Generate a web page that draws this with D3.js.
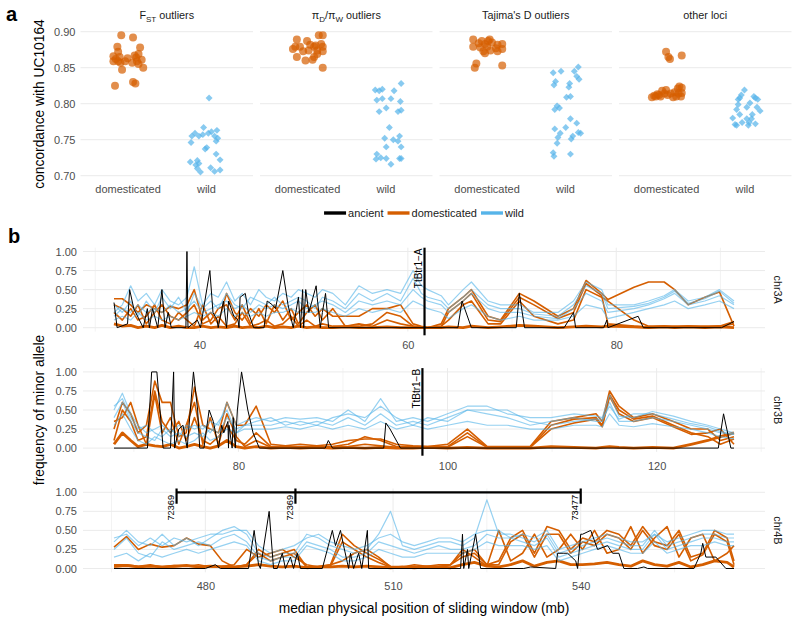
<!DOCTYPE html>
<html>
<head>
<meta charset="utf-8">
<script src="https://cdn.jsdelivr.net/npm/d3@7"></script>
<style>
  body { margin: 0; background: #fff; }
  svg text { font-family: "Liberation Sans", Arial, Helvetica, sans-serif; }
</style>
</head>
<body>
<div id="chart"></div>
<script>
// ---------- panel a data: [jitter (category units), concordance] ----------
const groupsA = ['domesticated', 'wild'];
const concTicks = [0.70, 0.75, 0.80, 0.85, 0.90];

const fstDom = [[-0.16,0.825],[-0.08,0.895],[0.07,0.892],[-0.13,0.879],[-0.12,0.872],[-0.18,0.866],[-0.15,0.862],
  [-0.12,0.859],[-0.09,0.857],[-0.03,0.859],[-0.07,0.847],[0,0.863],[0.06,0.857],[0.07,0.830],[0.10,0.828],
  [0.11,0.864],[0.14,0.869],[0.16,0.878],[0.18,0.861],[0.20,0.850],[0.14,0.855],[0.12,0.859],[0.09,0.867],
  [-0.10,0.865],[-0.18,0.859]];
const fstWild = [[0.04,0.808],[-0.03,0.767],[-0.14,0.759],[-0.18,0.755],[-0.19,0.746],[-0.09,0.755],[-0.04,0.757],
  [0.03,0.759],[0.07,0.761],[0.14,0.763],[0.11,0.755],[0.15,0.752],[0.13,0.748],[0.01,0.739],[-0.01,0.737],
  [0.13,0.730],[0.18,0.722],[-0.20,0.719],[-0.11,0.721],[-0.13,0.715],[-0.11,0.710],[-0.07,0.705],[0.06,0.711],
  [0.11,0.706],[0.18,0.708],[-0.09,0.717]];
const piDom = [[-0.13,0.889],[0,0.887],[0.15,0.895],[0.20,0.895],[-0.15,0.879],[-0.18,0.876],[-0.09,0.879],
  [-0.05,0.873],[0.02,0.874],[0.09,0.879],[0.11,0.881],[0.18,0.883],[0.20,0.879],[0.13,0.874],[0.20,0.873],
  [-0.13,0.865],[-0.02,0.860],[0.07,0.861],[0.09,0.865],[0.13,0.869],[0.20,0.850],[0.04,0.882]];
const piWild = [[-0.13,0.819],[-0.08,0.818],[-0.04,0.820],[-0.11,0.805],[-0.04,0.807],[0.01,0.794],[-0.08,0.789],
  [0.11,0.818],[0.07,0.807],[0.16,0.789],[0.20,0.791],[0.20,0.828],[0.19,0.803],[0.05,0.767],[0.10,0.750],
  [0.18,0.755],[0.16,0.748],[0.20,0.740],[0.01,0.740],[-0.01,0.752],[-0.11,0.730],[0.01,0.724],[-0.12,0.723],
  [-0.06,0.725],[0.07,0.716],[0.18,0.724],[0.20,0.724]];
const tajDom = [[-0.17,0.889],[-0.06,0.887],[0.04,0.889],[-0.02,0.883],[-0.10,0.884],[0.07,0.885],[0.14,0.882],
  [0.20,0.883],[-0.17,0.879],[-0.08,0.878],[0.01,0.879],[0.12,0.877],[0.20,0.876],[-0.04,0.873],[0.05,0.874],
  [0.14,0.873],[-0.02,0.870],[-0.13,0.856],[-0.15,0.850],[0.20,0.853],[0.02,0.887]];
const tajWild = [[-0.15,0.843],[-0.05,0.845],[0.12,0.845],[0.17,0.851],[0.15,0.838],[0.18,0.834],[-0.12,0.831],
  [-0.14,0.826],[0.06,0.828],[0.05,0.823],[0.02,0.809],[0.07,0.810],[-0.10,0.797],[-0.07,0.794],[-0.13,0.792],
  [0.07,0.779],[0.15,0.773],[-0.13,0.765],[-0.06,0.759],[0.01,0.767],[-0.09,0.753],[0.10,0.755],[0.08,0.751],
  [0.20,0.759],[0.17,0.760],[-0.10,0.745],[-0.15,0.732],[-0.14,0.727],[0.07,0.730]];
const otherDom = [[0,0.872],[0.03,0.865],[0.05,0.862],[0.20,0.867],[-0.18,0.809],[-0.13,0.810],[-0.09,0.812],
  [-0.05,0.818],[0,0.819],[-0.02,0.814],[-0.07,0.810],[0.02,0.812],[0.06,0.814],[0.11,0.816],[0.15,0.821],
  [0.17,0.824],[0.20,0.822],[0.20,0.815],[0.19,0.810],[0.13,0.810],[0.09,0.809],[-0.11,0.813],[-0.15,0.811],
  [0.16,0.814]];
const otherWild = [[0,0.819],[-0.04,0.812],[-0.06,0.808],[0.12,0.810],[0.17,0.806],[0.14,0.808],[-0.08,0.806],
  [0.07,0.801],[-0.08,0.799],[0.03,0.795],[0.16,0.795],[0.20,0.790],[-0.10,0.792],[-0.15,0.780],[-0.06,0.785],
  [0.10,0.785],[0.09,0.779],[0.03,0.779],[-0.12,0.771],[-0.10,0.770],[-0.03,0.774],[0.05,0.770],[0.14,0.772],
  [0.06,0.774]];

const facetTitles = [
  [['F'], ['ST', 'sub'], [' outliers']],
  [['\u03c0'], ['D', 'sub'], ['/\u03c0'], ['W', 'sub'], [' outliers']],
  [["Tajima's D outliers"]],
  [['other loci']]
];
const facetData = [[fstDom, fstWild], [piDom, piWild], [tajDom, tajWild], [otherDom, otherWild]];

// ---------- panel b data: minor allele frequency along sliding windows ----------
const freqTicks = [0, 0.25, 0.5, 0.75, 1];
const legendNames = ['ancient', 'domesticated', 'wild'];

const chr3A_ticks = [40, 60, 80];
const chr3A_pos = [31.8,32.6,33.4,34.1,34.9,35.7,36.4,37.2,38.0,38.8,
  39.5,40.3,41.1,41.8,42.6,43.4,44.1,44.9,45.7,46.4,
  47.2,48.0,48.8,49.5,50.3,51.1,51.8,52.8,54.0,55.3,
  56.6,58.0,59.3,60.5,61.3,61.9,63.2,63.9,65.3,66.1,
  67.7,68.9,70.7,72.1,74.4,75.9,77.1,78.6,79.2,81.7,
  83.1,84.6,85.6,86.9,88.5,89.9,91.3];
const chr3A_dom = [
  [0.38,0.38,0.30,0.20,0.30,0.25,0.20,0.28,0.25,0.30, 0.50,0.10,0.20,0.05,0.45,0.20,0.10,0.25,0.15,0.30,
   0.20,0.35,0.10,0.20,0.30,0.15,0.25,0.15,0.15,0.15, 0.25,0.25,0.30,0.05,0.02,0.00,0.05,0.25,0.40,0.50,
   0.15,0.10,0.45,0.35,0.15,0.25,0.62,0.45,0.37,0.53, 0.60,0.60,0.50,0.30,0.40,0.47,0.02],
  [0.20,0.10,0.25,0.10,0.15,0.30,0.10,0.05,0.20,0.10, 0.02,0.30,0.05,0.15,0.02,0.05,0.20,0.02,0.05,0.10,
   0.02,0.05,0.15,0.02,0.10,0.02,0.05,0.02,0.02,0.05, 0.02,0.10,0.05,0.02,0.00,0.00,0.02,0.10,0.30,0.35,
   0.05,0.05,0.35,0.15,0.05,0.10,0.50,0.40,0.35,0.10, 0.02,0.02,0.02,0.02,0.02,0.02,0.08],
  [0.30,0.25,0.15,0.30,0.05,0.20,0.30,0.15,0.10,0.20, 0.30,0.05,0.10,0.25,0.30,0.10,0.30,0.05,0.25,0.05,
   0.30,0.10,0.25,0.05,0.20,0.30,0.10,0.25,0.02,0.02, 0.05,0.20,0.15,0.02,0.01,0.00,0.01,0.20,0.35,0.45,
   0.10,0.08,0.40,0.30,0.12,0.20,0.58,0.42,0.05,0.02, 0.01,0.02,0.01,0.02,0.01,0.02,0.05],
  [0.05,0.02,0.03,0.00,0.02,0.00,0.03,0.00,0.02,0.00, 0.00,0.02,0.00,0.01,0.00,0.02,0.00,0.01,0.00,0.02,
   0.00,0.01,0.00,0.02,0.00,0.01,0.00,0.00,0.01,0.00, 0.00,0.01,0.00,0.00,0.00,0.00,0.00,0.01,0.00,0.02,
   0.00,0.01,0.03,0.02,0.00,0.01,0.02,0.01,0.02,0.01, 0.00,0.01,0.00,0.01,0.00,0.01,0.00]
];
const chr3A_wild = [
  [0.20,0.30,0.55,0.35,0.45,0.30,0.50,0.35,0.30,0.40, 0.80,0.30,0.45,0.40,0.60,0.35,0.45,0.30,0.50,0.40,
   0.35,0.45,0.40,0.50,0.45,0.40,0.50,0.45,0.30,0.55, 0.45,0.50,0.45,0.75,0.55,0.50,0.42,0.30,0.50,0.60,
   0.35,0.30,0.30,0.20,0.20,0.35,0.60,0.50,0.30,0.30, 0.35,0.42,0.50,0.35,0.40,0.50,0.35],
  [0.15,0.25,0.20,0.30,0.20,0.25,0.20,0.30,0.20,0.25, 0.35,0.20,0.25,0.30,0.35,0.25,0.30,0.20,0.30,0.25,
   0.30,0.25,0.30,0.35,0.25,0.30,0.35,0.30,0.20,0.35, 0.30,0.35,0.30,0.50,0.40,0.35,0.30,0.20,0.35,0.45,
   0.25,0.20,0.20,0.15,0.12,0.25,0.45,0.35,0.20,0.25, 0.30,0.38,0.45,0.30,0.35,0.42,0.30],
  [0.10,0.15,0.10,0.20,0.10,0.15,0.10,0.15,0.10,0.15, 0.20,0.15,0.20,0.15,0.25,0.15,0.20,0.15,0.20,0.15,
   0.20,0.20,0.25,0.20,0.20,0.20,0.25,0.20,0.15,0.25, 0.20,0.25,0.20,0.35,0.30,0.25,0.20,0.12,0.25,0.30,
   0.15,0.10,0.15,0.10,0.10,0.15,0.30,0.25,0.12,0.20, 0.25,0.30,0.35,0.25,0.30,0.35,0.25],
  [0.30,0.20,0.35,0.15,0.35,0.20,0.40,0.25,0.40,0.20, 0.45,0.25,0.35,0.25,0.45,0.30,0.25,0.40,0.35,0.30,
   0.40,0.30,0.35,0.40,0.35,0.25,0.40,0.35,0.25,0.45, 0.35,0.45,0.35,0.65,0.45,0.40,0.35,0.25,0.40,0.50,
   0.30,0.25,0.25,0.18,0.15,0.30,0.55,0.45,0.25,0.28, 0.32,0.40,0.48,0.32,0.38,0.48,0.32]
];
const chr3A_ancient = [[31.8,0.33],[32.1,0],[33.1,0.05],[33.3,0.5],[33.7,0.25],[34.6,0],[35.0,0.25],[35.2,0],
  [35.5,0.25],[36.0,0],[36.4,0.5],[36.7,0],[37.0,0.2],[37.3,0],[38.7,0],[38.8,1],[38.9,0],[39.8,0.1],[40.1,0],
  [41.0,0.75],[41.3,0.2],[41.7,0.1],[41.8,0],[42.3,0.35],[42.6,0],[42.8,0.35],[43.3,0.15],[43.7,0.1],[43.8,0],
  [43.9,0.4],[44.4,0.45],[44.7,0.2],[45.2,0],[46.2,0],[46.5,0.35],[47.0,0.3],[47.3,0.25],[48.0,0.75],[48.5,0.3],
  [49.0,0],[49.5,0.4],[49.7,0],[49.9,0.5],[50.0,0],[50.2,0.5],[50.5,0.2],[50.9,0.4],[51.2,0.55],[51.3,0.4],
  [51.6,0],[51.8,0.2],[52.1,0.45],[52.4,0],[64.8,0],[65.2,0.35],[66.1,0],[70.4,0],[70.7,0.45],[71.2,0],[75.0,0],
  [75.9,0.2],[76.1,0],[78.8,0],[79.1,0.1],[79.2,0],[82.1,0.15],[82.6,0],[90.1,0],[91.3,0.08]];

const chr3B_ticks = [80, 100, 120];
const chr3B_pos = [68.1,68.9,69.7,70.4,71.2,72.0,72.7,73.5,74.3,75.0,
  75.8,76.6,77.3,78.1,78.9,79.8,80.6,81.7,83.1,84.5,
  85.9,87.5,89.0,90.5,92.1,93.6,95.1,96.7,98.1,100.0,
  101.9,103.8,105.7,107.9,109.9,112.1,114.2,114.8,115.5,116.4,
  117.8,119.6,121.6,123.3,124.9,126.1,127.4];
const chr3B_dom = [
  [0.25,0.60,0.45,0.20,0.30,0.88,0.60,0.60,0.15,0.20, 0.80,0.30,0.25,0.20,0.60,0.30,0.30,0.55,0.05,0.03,
   0.05,0.03,0.05,0.10,0.12,0.12,0.05,0.03,0.02,0.05, 0.25,0.02,0.02,0.02,0.35,0.40,0.45,0.35,0.75,0.55,
   0.40,0.45,0.35,0.25,0.25,0.10,0.15],
  [0.10,0.50,0.35,0.10,0.15,0.75,0.35,0.20,0.35,0.10, 0.40,0.10,0.05,0.15,0.30,0.10,0.05,0.20,0.02,0.02,
   0.02,0.02,0.02,0.05,0.15,0.10,0.02,0.02,0.02,0.02, 0.20,0.01,0.01,0.01,0.30,0.38,0.40,0.30,0.70,0.50,
   0.38,0.42,0.30,0.20,0.15,0.05,0.12],
  [0.35,0.40,0.60,0.30,0.05,0.70,0.20,0.40,0.05,0.30, 0.60,0.05,0.40,0.05,0.45,0.15,0.02,0.10,0.01,0.01,
   0.01,0.02,0.01,0.02,0.05,0.03,0.01,0.01,0.01,0.01, 0.15,0.01,0.01,0.01,0.25,0.33,0.38,0.28,0.68,0.45,
   0.35,0.40,0.28,0.18,0.20,0.25,0.05],
  [0.05,0.20,0.10,0.02,0.05,0.03,0.02,0.05,0.00,0.02, 0.05,0.02,0.00,0.03,0.10,0.02,0.00,0.02,0.00,0.01,
   0.00,0.01,0.00,0.01,0.00,0.01,0.00,0.00,0.01,0.00, 0.01,0.00,0.00,0.00,0.02,0.01,0.00,0.01,0.02,0.01,
   0.00,0.01,0.00,0.05,0.10,0.15,0.20]
];
const chr3B_wild = [
  [0.50,0.72,0.45,0.30,0.20,0.25,0.30,0.20,0.30,0.25, 0.30,0.25,0.35,0.30,0.60,0.30,0.35,0.40,0.35,0.40,
   0.38,0.40,0.35,0.50,0.35,0.65,0.35,0.40,0.35,0.45, 0.55,0.55,0.45,0.40,0.40,0.45,0.42,0.40,0.70,0.42,
   0.40,0.48,0.42,0.35,0.30,0.25,0.20],
  [0.40,0.60,0.35,0.20,0.15,0.10,0.25,0.15,0.20,0.15, 0.20,0.15,0.25,0.20,0.40,0.25,0.30,0.30,0.30,0.35,
   0.30,0.35,0.30,0.40,0.30,0.45,0.30,0.35,0.30,0.40, 0.50,0.45,0.40,0.30,0.35,0.40,0.35,0.35,0.60,0.35,
   0.35,0.40,0.35,0.30,0.25,0.20,0.18],
  [0.30,0.45,0.25,0.10,0.05,0.15,0.10,0.05,0.10,0.05, 0.10,0.20,0.10,0.15,0.25,0.20,0.25,0.25,0.25,0.28,
   0.25,0.30,0.25,0.30,0.25,0.35,0.25,0.30,0.25,0.30, 0.35,0.30,0.30,0.25,0.25,0.30,0.30,0.28,0.45,0.30,
   0.28,0.32,0.28,0.25,0.20,0.15,0.12],
  [0.55,0.65,0.40,0.25,0.30,0.20,0.15,0.25,0.15,0.30, 0.25,0.30,0.20,0.35,0.50,0.20,0.30,0.35,0.40,0.30,
   0.35,0.30,0.40,0.45,0.40,0.55,0.40,0.30,0.40,0.35, 0.50,0.50,0.50,0.35,0.30,0.35,0.38,0.38,0.55,0.38,
   0.45,0.45,0.38,0.32,0.28,0.22,0.18]
];
const chr3B_ancient = [[68.1,0],[71.3,0],[71.5,0.5],[71.7,1],[72.2,1],[72.8,0],[73.5,0],[73.8,1],[73.9,0],
  [74.3,0.25],[74.7,0.3],[75.1,0],[75.7,1],[76.1,0.5],[76.3,0],[76.7,0],[77.2,0.5],[77.6,0.35],[78.1,0],
  [78.4,0.3],[78.6,0.2],[79.0,0.35],[79.05,0],[79.1,0.3],[79.4,0],[79.5,0.4],[79.7,0],[79.9,0.5],[80.3,1],
  [80.9,0.5],[81.4,0.2],[82.0,0],[88.3,0],[88.6,0.1],[89.0,0],[93.9,0],[94.1,0.33],[94.5,0.25],[95.5,0],
  [125.9,0],[126.4,0.45],[127.1,0],[127.4,0]];

const chr4B_ticks = [480, 510, 540];
const chr4B_pos = [465.4,467.4,469.3,471.2,473.1,475.0,477.0,478.9,480.8,482.7,
  484.6,486.6,488.5,490.4,492.3,494.2,496.2,498.1,500.0,501.9,
  503.8,505.8,507.7,509.6,511.5,513.4,515.4,517.3,519.2,521.1,
  523.0,525.0,526.9,528.8,530.7,532.6,534.6,536.5,538.4,540.3,
  542.2,544.2,546.1,548.0,549.9,551.8,553.8,555.7,557.6,559.5,
  561.4,563.4,564.5];
const chr4B_dom = [
  [0.28,0.42,0.25,0.32,0.28,0.30,0.40,0.32,0.30,0.10, 0.02,0.05,0.25,0.15,0.20,0.25,0.02,0.03,0.05,0.45,
   0.30,0.20,0.12,0.03,0.02,0.05,0.03,0.05,0.05,0.20, 0.25,0.05,0.10,0.40,0.50,0.20,0.55,0.50,0.25,0.40,
   0.35,0.50,0.45,0.30,0.55,0.35,0.30,0.50,0.15,0.20, 0.50,0.40,0.10],
  [0.05,0.05,0.03,0.05,0.02,0.04,0.03,0.05,0.02,0.03, 0.02,0.05,0.20,0.10,0.15,0.20,0.02,0.02,0.03,0.35,
   0.25,0.15,0.08,0.02,0.02,0.03,0.02,0.03,0.05,0.15, 0.20,0.05,0.05,0.35,0.45,0.15,0.45,0.45,0.20,0.35,
   0.30,0.45,0.40,0.25,0.50,0.30,0.25,0.45,0.10,0.18, 0.45,0.35,0.05],
  [0.02,0.03,0.02,0.03,0.02,0.02,0.03,0.02,0.02,0.03, 0.05,0.25,0.15,0.20,0.25,0.15,0.05,0.02,0.05,0.10,
   0.20,0.25,0.15,0.02,0.02,0.02,0.03,0.02,0.05,0.25, 0.15,0.03,0.50,0.10,0.20,0.45,0.15,0.25,0.45,0.25,
   0.50,0.20,0.25,0.55,0.20,0.40,0.55,0.15,0.40,0.45, 0.10,0.20,0.30],
  [0.03,0.04,0.02,0.03,0.02,0.03,0.04,0.02,0.03,0.02, 0.02,0.03,0.05,0.03,0.02,0.03,0.01,0.02,0.02,0.03,
   0.02,0.03,0.02,0.01,0.02,0.01,0.02,0.02,0.01,0.05, 0.08,0.03,0.02,0.05,0.10,0.03,0.08,0.10,0.05,0.05,
   0.06,0.08,0.05,0.03,0.10,0.05,0.03,0.08,0.02,0.05, 0.10,0.08,0.02]
];
const chr4B_wild = [
  [0.35,0.50,0.35,0.30,0.45,0.30,0.40,0.30,0.40,0.50, 0.55,0.45,0.20,0.15,0.20,0.20,0.45,0.40,0.30,0.25,
   0.20,0.25,0.45,0.75,0.30,0.25,0.30,0.35,0.35,0.30, 0.40,0.90,0.45,0.45,0.40,0.35,0.45,0.20,0.25,0.30,
   0.35,0.40,0.35,0.30,0.30,0.50,0.30,0.35,0.40,0.45, 0.45,0.40,0.40],
  [0.25,0.40,0.20,0.15,0.35,0.25,0.30,0.35,0.30,0.40, 0.45,0.35,0.15,0.10,0.15,0.15,0.35,0.30,0.25,0.15,
   0.15,0.20,0.35,0.30,0.25,0.20,0.25,0.30,0.25,0.25, 0.30,0.45,0.40,0.40,0.35,0.30,0.40,0.15,0.20,0.25,
   0.30,0.35,0.30,0.25,0.25,0.45,0.25,0.30,0.35,0.40, 0.40,0.35,0.35],
  [0.15,0.20,0.10,0.20,0.15,0.20,0.25,0.20,0.25,0.30, 0.35,0.30,0.10,0.05,0.10,0.10,0.30,0.25,0.20,0.10,
   0.10,0.15,0.25,0.20,0.15,0.15,0.20,0.20,0.20,0.20, 0.25,0.35,0.30,0.30,0.30,0.25,0.30,0.10,0.15,0.20,
   0.25,0.30,0.25,0.20,0.20,0.35,0.20,0.25,0.30,0.30, 0.35,0.30,0.30],
  [0.40,0.45,0.30,0.40,0.30,0.40,0.35,0.40,0.45,0.45, 0.50,0.50,0.30,0.20,0.25,0.30,0.40,0.45,0.35,0.30,
   0.25,0.30,0.40,0.45,0.35,0.30,0.35,0.40,0.40,0.35, 0.45,0.50,0.50,0.40,0.45,0.40,0.50,0.25,0.30,0.35,
   0.40,0.45,0.40,0.35,0.35,0.45,0.35,0.40,0.45,0.50, 0.50,0.45,0.45]
];
const chr4B_ancient = [[465.4,0],[480.0,0],[481.6,0.05],[482.4,0],[486.9,0],[487.8,0.5],[488.5,0.05],[488.8,0],
  [490.2,0.75],[490.9,0],[491.5,0],[492.3,0.2],[492.8,0],[493.6,0.15],[494.1,0],[494.7,0.2],[495.2,0],[498.7,0],
  [500.3,0.5],[500.8,0.3],[501.6,0.5],[502.1,0.3],[502.9,0],[503.2,0.2],[503.7,0],[504.5,0.2],[505.0,0],
  [505.9,0.5],[506.1,0],[520.8,0],[521.1,0.45],[521.3,0],[521.9,0.25],[522.1,0],[523.2,0.45],[524.0,0],
  [530.9,0],[532.0,0.02],[536.0,0],[536.3,0.2],[537.3,0.2],[537.9,0.2],[539.2,0.1],[539.5,0],[540.0,0.45],
  [540.3,0.45],[541.6,0.5],[542.7,0.25],[544.3,0.3],[545.1,0.2],[546.1,0.2],[546.9,0],[549.1,0],[550.1,0.02],
  [550.7,0],[558.1,0],[559.2,0.2],[559.5,0.33],[560.0,0.15],[561.6,0.15],[563.2,0],[564.5,0]];

// gene markers and the chr4B bracket
const geneChr = ['chr3A', 'chr3B'];
const genePos = [61.6, 97.6];
const geneLabel = ['TtBtr1\u2212A', 'TtBtr1\u2212B'];
const bracketPos = [475.4, 494.4, 540.0];
const bracketLabel = ['72369', '72369', '73477'];

const chromosomes = [
  { name: 'chr3A', pos: chr3A_pos, dom: chr3A_dom, wild: chr3A_wild, ancient: chr3A_ancient, ticks: chr3A_ticks },
  { name: 'chr3B', pos: chr3B_pos, dom: chr3B_dom, wild: chr3B_wild, ancient: chr3B_ancient, ticks: chr3B_ticks },
  { name: 'chr4B', pos: chr4B_pos, dom: chr4B_dom, wild: chr4B_wild, ancient: chr4B_ancient, ticks: chr4B_ticks }
];

// ---------- styling ----------
const colors = {
  ancient: '#000000',
  domesticated: '#d55e00',
  wild: '#56b4e9',
  grid: '#ebebeb',
  axis: '#4d4d4d',
  strip: '#1a1a1a'
};

const svg = d3.select('#chart').append('svg')
  .attr('width', 800)
  .attr('height', 629);

function styleAxis(sel, size) {
  sel.select('.domain').remove();
  sel.selectAll('text').attr('font-size', size).attr('fill', colors.axis);
}

// ================= panel a =================
const aLeft = 80.5, aWidth = 172.5, aStep = 179.5;
const yA = d3.scaleLinear().domain([0.70, 0.90]).range([175.7, 31.7]);

facetTitles.forEach((parts, i) => {
  const left = aLeft + i * aStep;
  const xA = d3.scalePoint().domain(groupsA).range([left, left + aWidth]).padding(0.6);
  const g = svg.append('g');

  g.append('g').selectAll('line')
    .data(concTicks)
    .join('line')
    .attr('x1', left).attr('x2', left + aWidth)
    .attr('y1', d => yA(d)).attr('y2', d => yA(d))
    .attr('stroke', colors.grid).attr('stroke-width', 1);

  // strip title with subscripts
  const title = g.append('text')
    .attr('x', left + aWidth / 2).attr('y', 19)
    .attr('text-anchor', 'middle')
    .attr('font-size', 10.8).attr('fill', colors.strip);
  let shifted = false;
  parts.forEach(([txt, kind]) => {
    const t = title.append('tspan').text(txt);
    if (kind === 'sub') { t.attr('font-size', 8).attr('dy', shifted ? 0 : 3); shifted = true; }
    else { t.attr('dy', shifted ? -3 : 0); shifted = false; }
  });

  g.append('g')
    .attr('transform', 'translate(0,176)')
    .call(d3.axisBottom(xA).tickSize(0).tickPadding(9))
    .call(s => styleAxis(s, 11));

  if (i === 0) {
    g.append('g')
      .attr('transform', `translate(${left},0)`)
      .call(d3.axisLeft(yA).tickValues(concTicks).tickFormat(d3.format('.2f')).tickSize(0).tickPadding(5))
      .call(s => styleAxis(s, 11));
  }

  const [domPts, wildPts] = facetData[i];
  g.append('g').selectAll('circle')
    .data(domPts)
    .join('circle')
    .attr('cx', d => xA('domesticated') + d[0] * xA.step())
    .attr('cy', d => yA(d[1]))
    .attr('r', 4)
    .attr('fill', colors.domesticated)
    .attr('fill-opacity', 0.7);

  g.append('g').selectAll('path')
    .data(wildPts)
    .join('path')
    .attr('transform', d => `translate(${xA('wild') + d[0] * xA.step()},${yA(d[1])}) rotate(45)`)
    .attr('d', d3.symbol(d3.symbolSquare, 24))
    .attr('fill', colors.wild)
    .attr('fill-opacity', 0.7);
});

svg.append('text')
  .attr('transform', 'translate(44,104) rotate(-90)')
  .attr('text-anchor', 'middle')
  .attr('font-size', 13.8)
  .text('concordance with UC10164');

svg.append('text').attr('x', 6).attr('y', 21)
  .attr('font-size', 20).attr('font-weight', 'bold').text('a');

// ================= legend =================
const legend = svg.append('g');
let lx = 0;
legendNames.forEach(name => {
  legend.append('line')
    .attr('x1', lx).attr('x2', lx + 22)
    .attr('y1', 0).attr('y2', 0)
    .attr('stroke', colors[name]).attr('stroke-width', 3.4);
  const t = legend.append('text')
    .attr('x', lx + 24).attr('y', 4)
    .attr('font-size', 11).attr('fill', colors.strip)
    .text(name);
  lx += 24 + t.node().getComputedTextLength() + 4;
});
legend.attr('transform', `translate(${424 - (lx - 4) / 2},213)`);

svg.append('text').attr('x', 8).attr('y', 243)
  .attr('font-size', 20).attr('font-weight', 'bold').text('b');

// ================= panel b =================
const bx0 = 83, bx1 = 765, bh = 83.8;
const bTops = [247.7, 368.1, 488.5];

chromosomes.forEach((c, i) => {
  const top = bTops[i];
  const [x0, x1] = d3.extent(c.pos.concat(c.ancient.map(d => d[0])));
  const pad = (x1 - x0) * 0.05;
  const x = d3.scaleLinear().domain([x0 - pad, x1 + pad]).range([bx0, bx1]);
  const y = d3.scaleLinear().domain([-0.05, 1.05]).range([top + bh, top]);
  const g = svg.append('g');

  // grid
  const step = c.ticks[1] - c.ticks[0];
  const minor = [c.ticks[0] - step / 2].concat(c.ticks.map(t => t + step / 2))
    .filter(v => v >= x.domain()[0] && v <= x.domain()[1]);
  g.append('g').selectAll('line')
    .data(minor)
    .join('line')
    .attr('x1', d => x(d)).attr('x2', d => x(d))
    .attr('y1', top).attr('y2', top + bh)
    .attr('stroke', colors.grid).attr('stroke-width', 0.6);
  g.append('g').selectAll('line')
    .data(c.ticks)
    .join('line')
    .attr('x1', d => x(d)).attr('x2', d => x(d))
    .attr('y1', top).attr('y2', top + bh)
    .attr('stroke', colors.grid).attr('stroke-width', 1);
  g.append('g').selectAll('line')
    .data(freqTicks)
    .join('line')
    .attr('x1', bx0).attr('x2', bx1)
    .attr('y1', d => y(d)).attr('y2', d => y(d))
    .attr('stroke', colors.grid).attr('stroke-width', 1);

  g.append('g')
    .attr('transform', `translate(${bx0},0)`)
    .call(d3.axisLeft(y).tickValues(freqTicks).tickFormat(d3.format('.2f')).tickSize(0).tickPadding(6))
    .call(s => styleAxis(s, 11));
  g.append('g')
    .attr('transform', `translate(0,${top + bh})`)
    .call(d3.axisBottom(x).tickValues(c.ticks).tickFormat(d3.format('d')).tickSize(0).tickPadding(10))
    .call(s => styleAxis(s, 11));

  const line = d3.line().x(d => x(d[0])).y(d => y(d[1]));

  c.dom.forEach((vals, k) => {
    g.append('path')
      .attr('d', line(d3.zip(c.pos, vals)))
      .attr('fill', 'none')
      .attr('stroke', colors.domesticated)
      .attr('stroke-width', k === c.dom.length - 1 ? 2.8 : 1.6)
      .attr('stroke-linejoin', 'round');
  });
  c.wild.forEach(vals => {
    g.append('path')
      .attr('d', line(d3.zip(c.pos, vals)))
      .attr('fill', 'none')
      .attr('stroke', colors.wild)
      .attr('stroke-opacity', 0.62)
      .attr('stroke-width', 1.2)
      .attr('stroke-linejoin', 'round');
  });
  g.append('path')
    .attr('d', line(c.ancient))
    .attr('fill', 'none')
    .attr('stroke', colors.ancient)
    .attr('stroke-width', 1);

  // gene marker
  geneChr.forEach((gc, k) => {
    if (gc !== c.name) return;
    const gx = x(genePos[k]);
    g.append('line')
      .attr('x1', gx).attr('x2', gx)
      .attr('y1', y(1.05)).attr('y2', y(-0.1))
      .attr('stroke', '#000').attr('stroke-width', 2.2);
    g.append('text')
      .attr('transform', `translate(${gx - 2.5},${y(1.04)}) rotate(-90)`)
      .attr('text-anchor', 'end')
      .attr('font-size', 10)
      .text(geneLabel[k]);
  });

  // bracket of cloned regions
  if (c.name === 'chr4B') {
    g.append('line')
      .attr('x1', x(bracketPos[0])).attr('x2', x(bracketPos[bracketPos.length - 1]))
      .attr('y1', y(1)).attr('y2', y(1))
      .attr('stroke', '#000').attr('stroke-width', 2.2);
    bracketPos.forEach((p, k) => {
      g.append('line')
        .attr('x1', x(p)).attr('x2', x(p))
        .attr('y1', y(1.05)).attr('y2', y(0.85))
        .attr('stroke', '#000').attr('stroke-width', 2.2);
      g.append('text')
        .attr('transform', `translate(${x(p) - 2.5},${y(0.965)}) rotate(-90)`)
        .attr('text-anchor', 'end')
        .attr('font-size', 9.2)
        .text(bracketLabel[k]);
    });
  }

  // strip label on the right
  g.append('text')
    .attr('transform', `translate(774,${top + bh / 2}) rotate(90)`)
    .attr('text-anchor', 'middle')
    .attr('font-size', 10.8).attr('fill', colors.strip)
    .text(c.name);
});

svg.append('text')
  .attr('transform', 'translate(44,410) rotate(-90)')
  .attr('text-anchor', 'middle')
  .attr('font-size', 13.8)
  .text('frequency of minor allele');

svg.append('text')
  .attr('x', 424).attr('y', 613)
  .attr('text-anchor', 'middle')
  .attr('font-size', 13.8)
  .text('median physical position of sliding window (mb)');
</script>
</body>
</html>
